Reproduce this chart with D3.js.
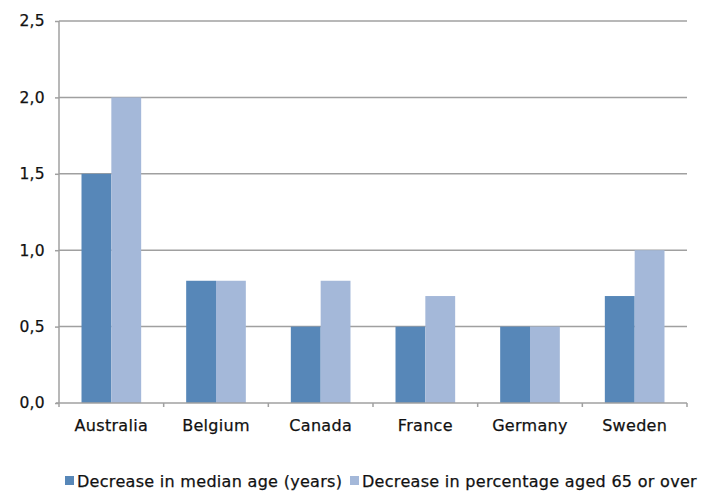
<!DOCTYPE html>
<html>
<head>
<script src="https://d3js.org/d3.v7.min.js"></script>
<style>
  body { margin: 0; background: #fff; }
  text { font-family: "DejaVu Sans", sans-serif; font-size: 16px; letter-spacing: 0.3px; fill: #111; stroke: #111; stroke-width: 0.25px; }
</style>
</head>
<body>
<svg width="712" height="494"></svg>
<script>
var countries = ["Australia", "Belgium", "Canada", "France", "Germany", "Sweden"];
var medianAge = [1.5, 0.8, 0.5, 0.5, 0.5, 0.7];
var aged65 = [2.0, 0.8, 0.8, 0.7, 0.5, 1.0];
var seriesNames = ["Decrease in median age (years)", "Decrease in percentage aged 65 or over"];
var colors = ["#5787b8", "#a4b8d9"];
var yTicks = [0, 0.5, 1.0, 1.5, 2.0, 2.5];

var svg = d3.select("svg");
var mLeft = 59, mRight = 687, mTop = 21, mBottom = 403;

var x = d3.scaleBand().domain(countries).range([mLeft, mRight]).paddingInner(0.43).paddingOuter(0.215);
var y = d3.scaleLinear().domain([0, 2.5]).range([mBottom, mTop]);
var fmt = function(d) { return d3.format(".1f")(d).replace(".", ","); };

// gridlines
svg.append("g").selectAll("line").data(yTicks.slice(1)).enter().append("line")
  .attr("x1", mLeft).attr("x2", mRight)
  .attr("y1", function(d) { return y(d); }).attr("y2", function(d) { return y(d); })
  .attr("stroke", "#a0a0a0").attr("stroke-width", 1.5);

// bars
var data = countries.map(function(c, i) { return {c: c, vals: [medianAge[i], aged65[i]]}; });
var bw = x.bandwidth() / 2;
var groups = svg.append("g").selectAll("g").data(data).enter().append("g")
  .attr("transform", function(d) { return "translate(" + x(d.c) + ",0)"; });
groups.selectAll("rect").data(function(d) { return d.vals; }).enter().append("rect")
  .attr("x", function(d, i) { return i * bw; })
  .attr("width", bw)
  .attr("y", function(d) { return y(d); })
  .attr("height", function(d) { return mBottom - y(d); })
  .attr("fill", function(d, i) { return colors[i]; });

// y axis
var yAxis = svg.append("g").attr("transform", "translate(" + mLeft + ",0)")
  .call(d3.axisLeft(y).tickValues(yTicks).tickFormat(fmt).tickSize(4).tickPadding(10));
yAxis.select(".domain").attr("stroke", "#a0a0a0").attr("stroke-width", 1.5).attr("d", "M0," + mTop + "V" + mBottom);
yAxis.selectAll(".tick line").attr("stroke", "#a0a0a0").attr("stroke-width", 1.5);
yAxis.selectAll("text").style("font-size", "15.5px").attr("fill", null).attr("font-family", null);

// x axis
var xAxis = svg.append("g").attr("transform", "translate(0," + mBottom + ")");
xAxis.append("line").attr("x1", mLeft - 3).attr("x2", mRight).attr("stroke", "#a0a0a0").attr("stroke-width", 1.5);
var bounds = d3.range(countries.length + 1).map(function(i) { return mLeft + i * (mRight - mLeft) / countries.length; });
xAxis.selectAll(".bt").data(bounds).enter().append("line")
  .attr("x1", function(d) { return d; }).attr("x2", function(d) { return d; })
  .attr("y1", 0).attr("y2", 4).attr("stroke", "#a0a0a0").attr("stroke-width", 1.5);
xAxis.selectAll(".lbl").data(countries).enter().append("text")
  .attr("x", function(d) { return x(d) + x.bandwidth() / 2; })
  .attr("y", 28).attr("text-anchor", "middle").text(function(d) { return d; });

// legend
var legend = svg.append("g").attr("transform", "translate(65,487)");
var lx = [0, 285];
seriesNames.forEach(function(n, i) {
  legend.append("rect").attr("x", lx[i]).attr("y", -11).attr("width", 9).attr("height", 9).attr("fill", colors[i]);
  legend.append("text").attr("x", lx[i] + 12).attr("y", 0).text(n);
});
</script>
</body>
</html>
